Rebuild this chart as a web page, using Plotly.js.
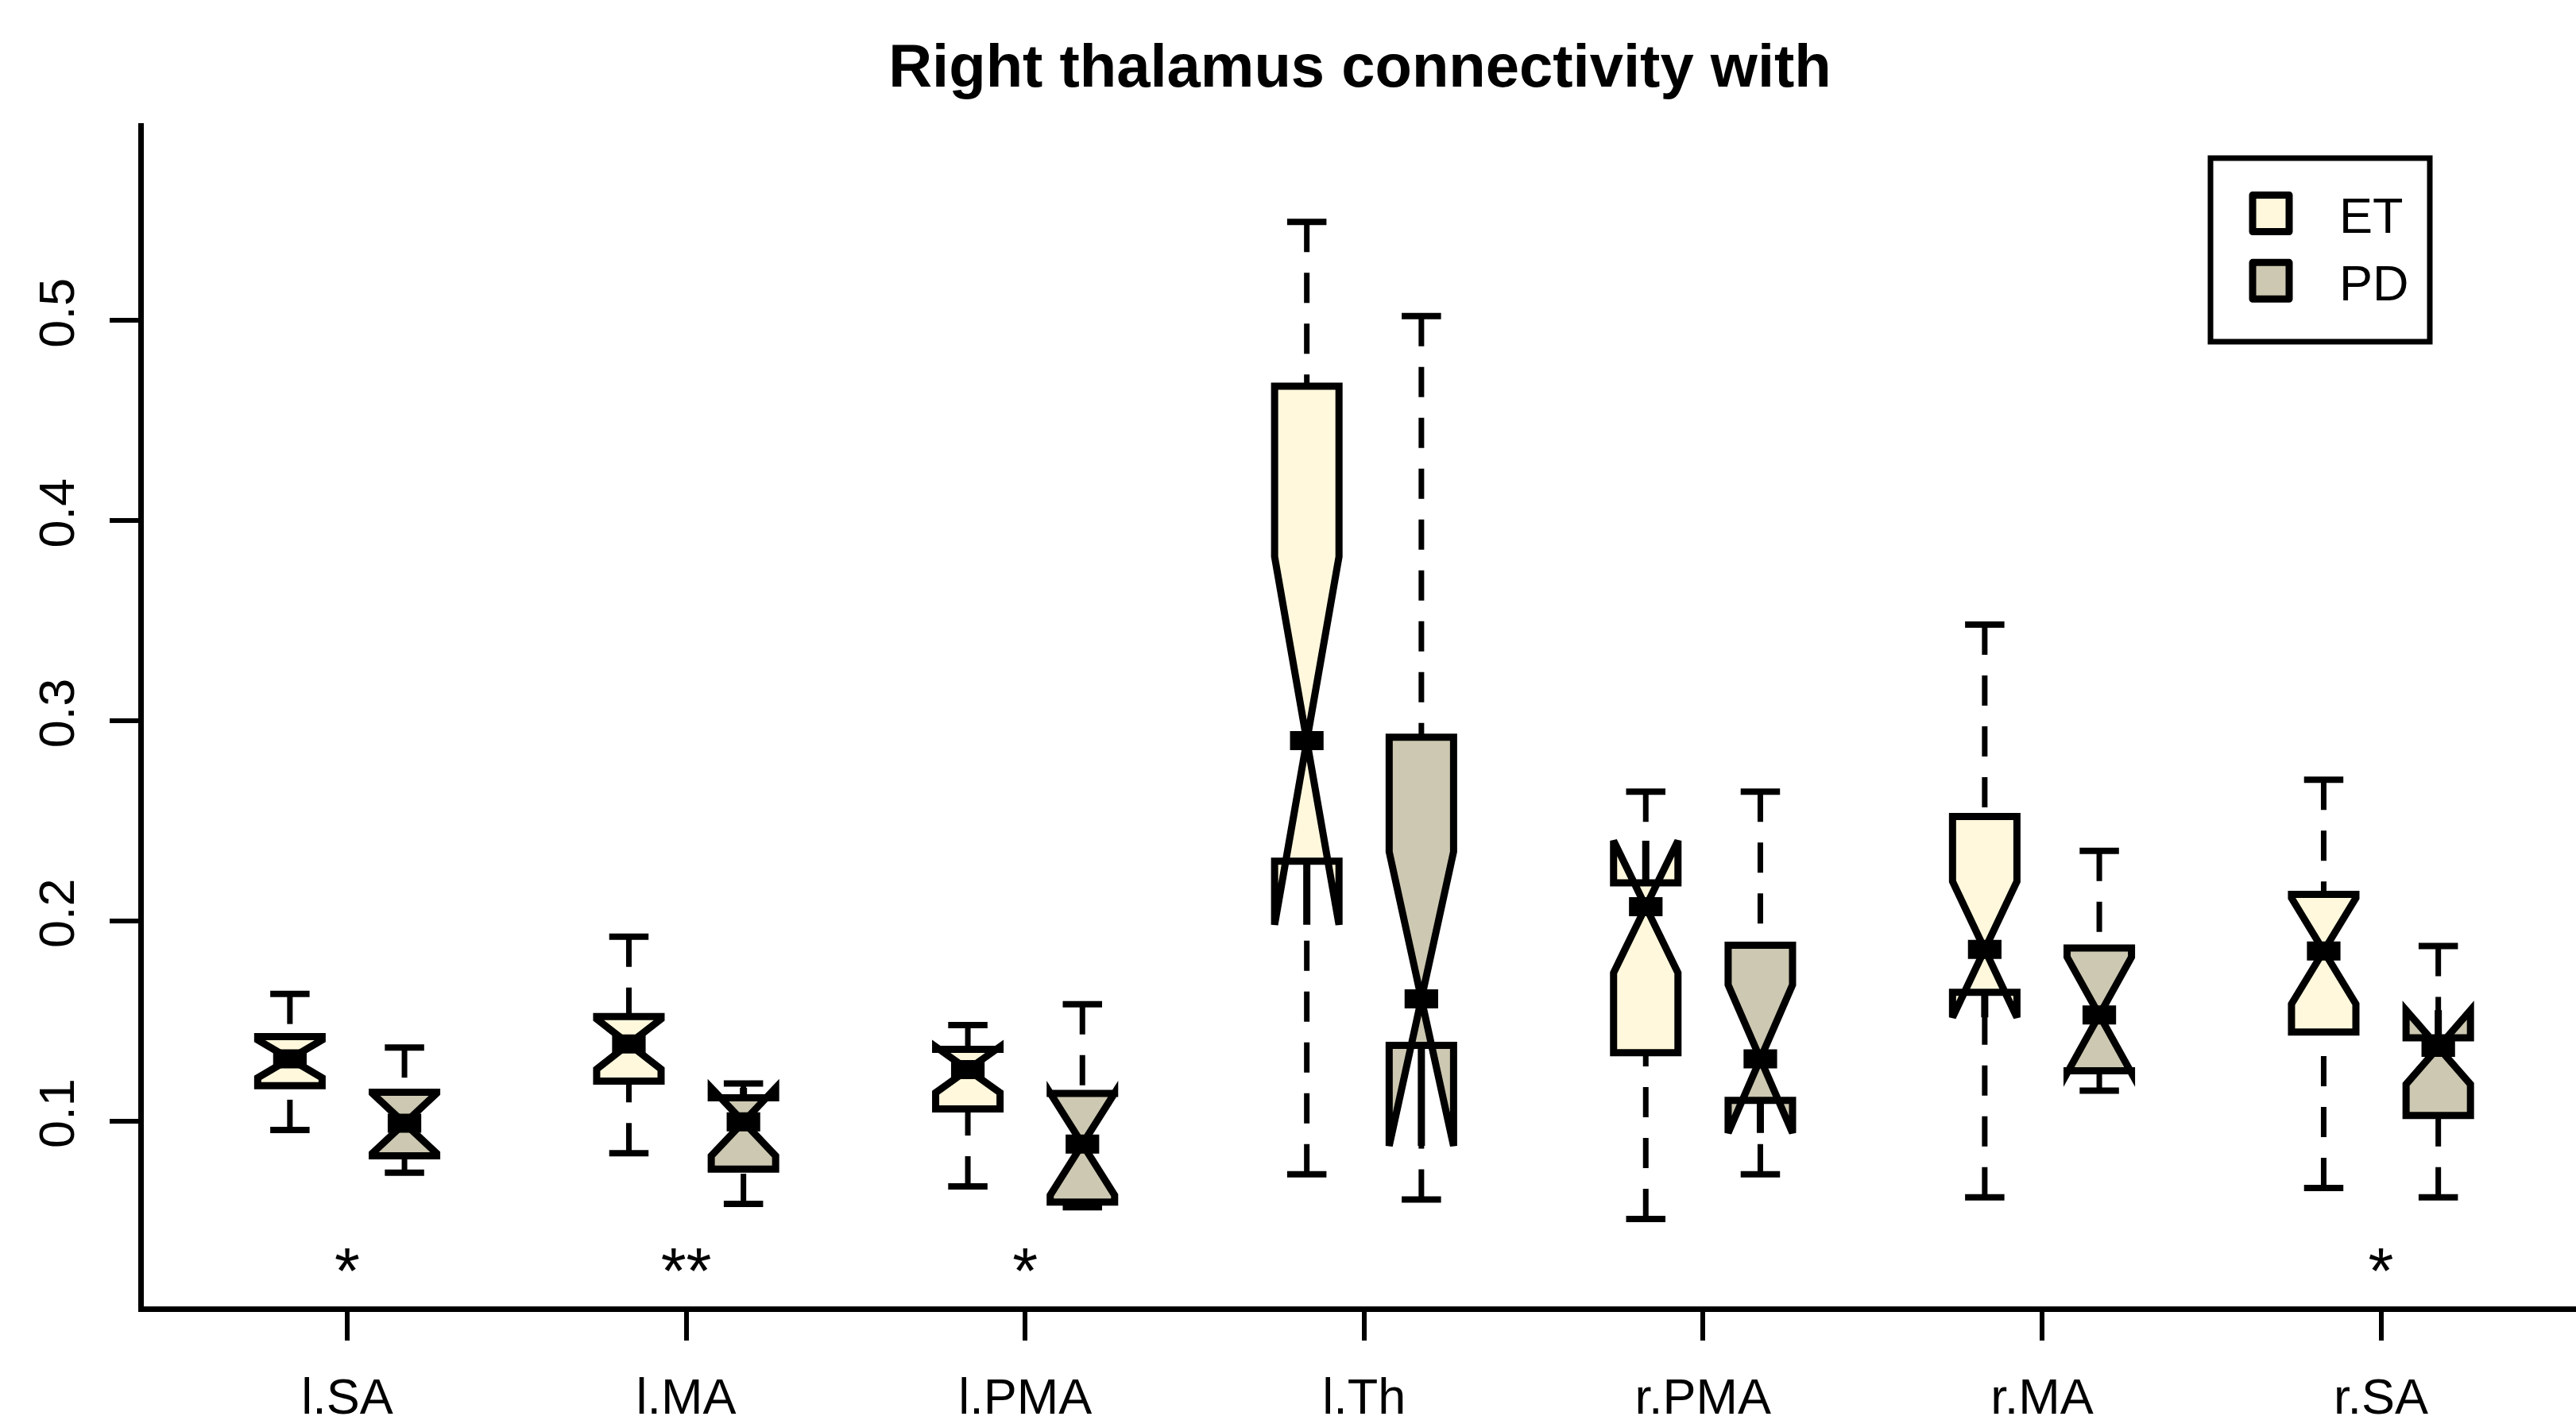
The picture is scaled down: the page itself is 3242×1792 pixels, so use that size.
<!DOCTYPE html>
<html>
<head>
<meta charset="utf-8">
<script src="https://cdn.plot.ly/plotly-3.0.1.min.js"></script>
<style>
  html, body { margin: 0; padding: 0; background: #ffffff; }
  #chart { width: 3242px; height: 1792px; }
</style>
</head>
<body>
<div id="chart"></div>
<script>
// ---- data ----
const categories = ['l.SA', 'l.MA', 'l.PMA', 'l.Th', 'r.PMA', 'r.MA', 'r.SA'];
const groupNames = ['ET', 'PD'];

const etLower  = [0.0955, 0.0838, 0.0673, 0.0733, 0.0510, 0.0618, 0.0665];
const etQ1     = [0.1176, 0.1199, 0.1060, 0.2298, 0.1341, 0.1643, 0.1444];
const etMedian = [0.1310, 0.1384, 0.1256, 0.2900, 0.2070, 0.1857, 0.1849];
const etQ3     = [0.1421, 0.1521, 0.1358, 0.4672, 0.2190, 0.2521, 0.2132];
const etUpper  = [0.1635, 0.1921, 0.1479, 0.5493, 0.2645, 0.3480, 0.2705];
const etNotch  = [0.0095, 0.0125, 0.0115, 0.0920, 0.0330, 0.0340, 0.0265];

const pdLower  = [0.0741, 0.0585, 0.0568, 0.0607, 0.0733, 0.1151, 0.0618];
const pdQ1     = [0.0826, 0.0759, 0.0594, 0.1378, 0.1103, 0.1250, 0.1027];
const pdMedian = [0.0988, 0.0995, 0.0884, 0.1610, 0.1310, 0.1529, 0.1368];
const pdQ3     = [0.1143, 0.1115, 0.1137, 0.2917, 0.1878, 0.1864, 0.1415];
const pdUpper  = [0.1367, 0.1187, 0.1583, 0.5022, 0.2645, 0.2349, 0.1874];
const pdNotch  = [0.0150, 0.0170, 0.0255, 0.0735, 0.0370, 0.0290, 0.0185];

const sigCategories = ['l.SA', 'l.MA', 'l.PMA', 'r.SA'];
const sigLabels     = ['*', '**', '*', '*'];

const yTickVals   = [0.1, 0.2, 0.3, 0.4, 0.5];
const yTickLabels = ['0.1', '0.2', '0.3', '0.4', '0.5'];

// ---- styling ----
const FONT = 'Liberation Sans, Arial, Helvetica, sans-serif';
const fillColors = ['#FFF8DC', '#CDC8B1'];
const BOX_W = 0.19;        // box width in category units
const OFFSET = 0.169;      // half distance between paired boxes
const STAPLE_HALF = 0.058;
const BOX_LW = 9;
const WHISK_LW = 7;
const MED_LW = 24;
const MED_HALF = BOX_W / 4 + 0.002;
const SIG_Y = 0.022;

const catPos = categories.map((c, i) => i + 1);

const series = [
  {name: groupNames[0], lower: etLower, q1: etQ1, med: etMedian, q3: etQ3, upper: etUpper, notch: etNotch, shift: -OFFSET, fill: fillColors[0]},
  {name: groupNames[1], lower: pdLower, q1: pdQ1, med: pdMedian, q3: pdQ3, upper: pdUpper, notch: pdNotch, shift: OFFSET, fill: fillColors[1]}
];

const traces = [];

// boxes (with notches) from precomputed statistics
series.forEach(s => {
  const xs = catPos.map(p => p + s.shift);
  traces.push({
    type: 'box',
    name: s.name,
    x: xs,
    q1: s.q1,
    median: s.med,
    q3: s.q3,
    lowerfence: s.q1,
    upperfence: s.q3,
    notched: true,
    notchspan: s.notch,
    notchwidth: 0.5,
    whiskerwidth: 0,
    width: BOX_W,
    boxpoints: false,
    fillcolor: s.fill,
    line: {color: '#000000', width: BOX_LW},
    hoverinfo: 'skip',
    showlegend: true
  });
});

// dashed whiskers (drawn from whisker end towards the box)
series.forEach(s => {
  const xs = [], ys = [];
  catPos.forEach((p, i) => {
    const x = p + s.shift;
    xs.push(x, x, null, x, x, null);
    ys.push(s.upper[i], s.q3[i], null, s.lower[i], s.q1[i], null);
  });
  traces.push({
    type: 'scatter', mode: 'lines', x: xs, y: ys,
    line: {color: '#000000', width: WHISK_LW, dash: '38px,26px'},
    hoverinfo: 'skip', showlegend: false
  });
});

// staples
series.forEach(s => {
  const xs = [], ys = [];
  catPos.forEach((p, i) => {
    const x = p + s.shift;
    xs.push(x - STAPLE_HALF, x + STAPLE_HALF, null, x - STAPLE_HALF, x + STAPLE_HALF, null);
    ys.push(s.upper[i], s.upper[i], null, s.lower[i], s.lower[i], null);
  });
  traces.push({
    type: 'scatter', mode: 'lines', x: xs, y: ys,
    line: {color: '#000000', width: WHISK_LW + 1},
    hoverinfo: 'skip', showlegend: false
  });
});

// thick median bars
series.forEach(s => {
  const xs = [], ys = [];
  catPos.forEach((p, i) => {
    const x = p + s.shift;
    xs.push(x - MED_HALF, x + MED_HALF, null);
    ys.push(s.med[i], s.med[i], null);
  });
  traces.push({
    type: 'scatter', mode: 'lines', x: xs, y: ys,
    line: {color: '#000000', width: MED_LW},
    hoverinfo: 'skip', showlegend: false
  });
});

// significance stars
traces.push({
  type: 'scatter', mode: 'text',
  x: sigCategories.map(c => categories.indexOf(c) + 1),
  y: sigCategories.map(() => SIG_Y),
  text: sigLabels,
  textposition: 'middle center',
  textfont: {family: FONT, size: 82, color: '#000000'},
  hoverinfo: 'skip', showlegend: false
});

const W = 3242, H = 1792;
const M = {l: 181, r: 0, t: 155, b: 148};
const plotW = W - M.l - M.r, plotH = H - M.t - M.b;
const px2paperX = px => (px - M.l) / plotW;
const px2paperY = py => (H - M.b - py) / plotH;
const xLeft = 0.4;
const xRight = xLeft + plotW / 426.6;

const layout = {
  width: W, height: H,
  margin: M,
  paper_bgcolor: '#ffffff',
  plot_bgcolor: '#ffffff',
  showlegend: true,
  boxmode: 'overlay',
  title: {
    text: 'Right thalamus connectivity with',
    font: {family: FONT, size: 76, color: '#000000', weight: 'bold'},
    x: 0.5, xref: 'paper', xanchor: 'center',
    y: 1 - 56 / H, yref: 'container', yanchor: 'top'
  },
  xaxis: {
    range: [xLeft, xRight],
    tickvals: catPos,
    ticktext: categories,
    ticks: 'outside', ticklen: 36, tickwidth: 6, tickcolor: '#000000',
    showline: true, linecolor: '#000000', linewidth: 7,
    showgrid: false, zeroline: false,
    tickfont: {family: FONT, size: 63, color: '#000000'},
    ticklabelstandoff: 16
  },
  yaxis: {
    range: [0.0073, 0.5986],
    tickvals: yTickVals,
    ticktext: yTickLabels,
    tickangle: -90,
    ticks: 'outside', ticklen: 36, tickwidth: 6, tickcolor: '#000000',
    showline: true, linecolor: '#000000', linewidth: 7,
    showgrid: false, zeroline: false,
    tickfont: {family: FONT, size: 63, color: '#000000'},
    ticklabelstandoff: 20
  },
  legend: {
    x: px2paperX(2772), xanchor: 'left',
    y: px2paperY(221), yanchor: 'top',
    bgcolor: 'rgba(0,0,0,0)',
    borderwidth: 0,
    font: {family: FONT, size: 63, color: '#000000'},
    itemwidth: 162,
    tracegroupgap: 0
  },
  shapes: [{
    type: 'rect', xref: 'paper', yref: 'paper',
    x0: px2paperX(2782), x1: px2paperX(3058),
    y0: px2paperY(430), y1: px2paperY(199),
    line: {color: '#000000', width: 7},
    fillcolor: 'rgba(0,0,0,0)'
  }]
};

Plotly.newPlot('chart', traces, layout, {staticPlot: true, displayModeBar: false}).then(gd => {
  gd.querySelectorAll('.legend .legendbox').forEach(p => {
    p.setAttribute('d', 'M23,23H-23V-23H23Z');
    p.style.strokeWidth = '9px';
    p.style.strokeLinejoin = 'round';
  });
});
</script>
</body>
</html>
